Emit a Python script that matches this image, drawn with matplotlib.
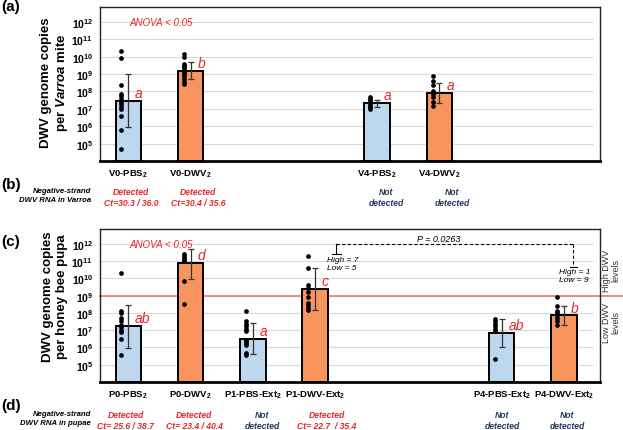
import numpy as np
import matplotlib
matplotlib.use('Agg')
import matplotlib.pyplot as plt
import matplotlib.transforms as mtrans

plt.rcParams['font.family'] = ['Liberation Sans', 'DejaVu Sans']
plt.rcParams['mathtext.fontset'] = 'custom'
plt.rcParams['mathtext.rm'] = 'Liberation Sans:bold'
plt.rcParams['mathtext.it'] = 'Liberation Sans:italic:bold'
plt.rcParams['mathtext.bf'] = 'Liberation Sans:bold'
plt.rcParams['mathtext.default'] = 'rm'

#%% Data ----------------------------------------------------------------------

# (a) DWV copies per Varroa mite
labels_a = ['V0-PBS$_2$', 'V0-DWV$_2$', 'V4-PBS$_2$', 'V4-DWV$_2$']
mean_a = [3.0e7, 1.45e9, 2.1e7, 8.0e7]
hi_a = [1.0e9, 4.8e9, 3.3e7, 3.1e8]
lo_a = [8.9e5, 4.9e8, 1.35e7, 2.2e7]
# individual samples, log10 copies
pts_a = [[10.35, 9.93, 8.38, 7.86, 7.73, 7.57, 7.42, 7.29, 7.13, 7.0, 6.58, 5.79, 4.70],
         [10.16, 10.01, 9.59, 9.49, 9.40, 9.30, 9.20, 9.11, 9.01, 8.88, 8.72, 8.57, 8.44],
         [7.67, 7.57, 7.48, 7.38, 7.29, 7.19, 7.10, 7.0],
         [8.91, 8.63, 8.38, 8.05, 7.86, 7.67, 7.38, 7.15]]
letters_a = ['a', 'b', 'a', 'a']
neg_a = ['Detected\nCt=30.3 / 36.0', 'Detected\nCt=30.4 / 35.6',
         'Not\ndetected', 'Not\ndetected']

# (c) DWV copies per honey bee pupa
labels_c = ['P0-PBS$_2$', 'P0-DWV$_2$', 'P1-PBS-Ext$_2$', 'P1-DWV-Ext$_2$',
            'P4-PBS-Ext$_2$', 'P4-DWV-Ext$_2$']
mean_c = [1.7e7, 7.6e10, 3.2e6, 2.4e9, 6.9e6, 7.2e7]
hi_c = [2.7e8, 5.1e11, 2.6e7, 4.0e10, 4.4e7, 2.4e8]
lo_c = [9.3e5, 9.5e9, 4.2e5, 1.5e8, 1.0e6, 1.9e7]
pts_c = [[10.31, 8.13, 7.99, 7.71, 7.51, 7.32, 7.16, 7.03, 6.90, 6.51, 5.58],
         [11.40, 11.27, 11.17, 11.08, 10.98, 9.82, 8.51],
         [8.09, 7.51, 7.36, 7.22, 7.09, 6.93, 6.45, 6.35, 6.26, 6.16, 5.68, 5.58],
         [11.31, 10.60, 9.63, 9.44, 9.24, 8.95, 8.57, 8.47, 8.28, 8.18],
         [7.66, 7.51, 7.36, 7.22, 7.09, 6.93, 5.35],
         [8.90, 8.38, 8.13, 7.99, 7.86, 7.71, 7.51, 7.32]]
letters_c = ['ab', 'd', 'a', 'c', 'ab', 'b']
neg_c = ['Detected\nCt= 25.6 / 38.7', 'Detected\nCt= 23.4 / 40.4', 'Not\ndetected',
         'Detected\nCt= 22.7  / 35.4', 'Not\ndetected', 'Not\ndetected']

threshold = 1e9
p_value = 'P = 0.0263'
counts_p1 = 'High = 7\nLow = 5'
counts_p4 = 'High = 1\nLow = 9'

#%% Styles --------------------------------------------------------------------
blue = '#BDD7EE'
orange = '#F8955F'
red = '#E8262B'
navy = '#22385E'
xlim = (-0.455, 7.58)
ylim = (1e4, 10**12.86)


def draw_panel(ax, xs, labels, mean, hi, lo, pts, letters):
    mean = np.array(mean)
    yerr = [mean - np.array(lo), np.array(hi) - mean]
    cols = [blue if 'PBS' in l else orange for l in labels]
    ax.set_yscale('log')
    ax.set_xlim(*xlim)
    ax.set_ylim(*ylim)
    for k in range(5, 13):
        ax.hlines(10.0**k, xlim[0], 7.47, color='#D9D9D9', lw=0.8, zorder=0)
    ax.bar(xs, mean - ylim[0], bottom=ylim[0], width=0.41, color=cols,
           edgecolor='k', linewidth=1.4, zorder=2)
    ax.errorbar(xs, mean, yerr=yerr, fmt='none', ecolor='#333333',
                elinewidth=0.9, capsize=2.2, capthick=0.9, zorder=4)
    for x, p in zip(xs, pts):
        ax.plot(np.full(len(p), x - 0.11), 10**np.array(p), 'o', color='k',
                ms=3.4, mew=0, zorder=3)
    for x, m, t in zip(xs, mean, letters):
        ax.text(x + 0.11, m * 10**0.45, t, color=red, style='italic',
                fontsize=10, ha='left', va='center', zorder=5)
    ax.set_xticks(xs)
    ax.set_xticklabels(labels, fontsize=6.8, fontweight='bold')
    ax.set_yticks([10.0**k for k in range(5, 13)])
    ax.set_yticklabels([r'$10^{%d}$' % k for k in range(5, 13)], fontsize=7.5)
    ax.minorticks_off()
    ax.tick_params(length=0, pad=5)
    for s in ['top', 'right', 'left']:
        ax.spines[s].set_linewidth(1.0)
        ax.spines[s].set_color('#222222')
    ax.spines['bottom'].set_linewidth(2.0)
    ax.text(0.02, 10**12, 'ANOVA < 0.05', color=red, style='italic',
            fontsize=7, va='center')


W, H = 623, 431
fig = plt.figure(figsize=(W / 100, H / 100), dpi=100)
ax_a = fig.add_axes([100 / W, 1 - 162 / H, 500 / W, 154 / H])
ax_c = fig.add_axes([100 / W, 1 - 383 / H, 500 / W, 153 / H])

xs_a = [0, 1, 4, 5]
xs_c = [0, 1, 2, 3, 6, 7]
draw_panel(ax_a, xs_a, labels_a, mean_a, hi_a, lo_a, pts_a, letters_a)
draw_panel(ax_c, xs_c, labels_c, mean_c, hi_c, lo_c, pts_c, letters_c)

# y labels
fig.text(55 / W, 1 - 83 / H, 'DWV genome copies\nper $\\mathit{Varroa}$ mite',
         rotation=90, ha='center', va='center', fontsize=9.5,
         fontweight='bold', multialignment='center', linespacing=1.15)
fig.text(55 / W, 1 - 297 / H, 'DWV genome copies\nper honey bee pupa',
         rotation=90, ha='center', va='center', fontsize=9.5,
         fontweight='bold', multialignment='center', linespacing=1.15)

# panel letters
for lab, y in zip(['(a)', '(b)', '(c)', '(d)'], [7, 185, 242, 406]):
    fig.text(0.002, 1 - y / H, lab, fontsize=11, fontweight='bold',
             ha='left', va='center')

# threshold line (runs past the right spine)
ax_c.plot([0, 1.05], [threshold, threshold], transform=ax_c.get_yaxis_transform(),
          color='#F08080', lw=1.3, clip_on=False, zorder=1)
fig.text(611 / W, 1 - 271 / H, 'High DWV\nlevels', rotation=90, ha='center',
         va='center', fontsize=6.5, color='#333333', linespacing=1.1)
fig.text(611 / W, 1 - 323 / H, 'Low DWV\nlevels', rotation=90, ha='center',
         va='center', fontsize=6.5, color='#333333', linespacing=1.1)

# comparison bracket P1 vs P4
ax_c.plot([3.34, 7.15], [10**12, 10**12], 'k--', lw=0.8, dashes=(3, 2))
ax_c.plot([3.34, 3.34], [10**12, 10**11.42], 'k-', lw=0.8)
ax_c.plot([3.27, 3.41], [10**11.42, 10**11.42], 'k-', lw=0.8)
ax_c.plot([7.15, 7.15], [10**12, 10**10.67], 'k--', lw=0.8, dashes=(3, 2))
ax_c.plot([7.09, 7.21], [10**10.67, 10**10.67], 'k-', lw=0.8)
ax_c.text(4.98, 10**12.05, p_value, style='italic', fontsize=6.5,
          ha='center', va='bottom')
ax_c.text(3.19, 10**11.32, counts_p1, style='italic', fontsize=6,
          ha='left', va='top', linespacing=1.3)
ax_c.text(6.92, 10**10.62, counts_p4, style='italic', fontsize=6,
          ha='left', va='top', linespacing=1.3)

# negative-strand rows (b) and (d)
def neg_row(ax, xs, texts, y1, what):
    tr = mtrans.blended_transform_factory(ax.transData, fig.transFigure)
    fig.text(91 / W, 1 - y1 / H, 'Negative-strand\nDWV RNA in ' + what,
             ha='right', va='top', fontsize=5.6, fontweight='bold',
             style='italic', linespacing=1.35)
    for x, t in zip(xs, texts):
        c = red if t.startswith('Detected') else navy
        ax.text(x, 1 - y1 / H, t, transform=tr, ha='center', va='top',
                fontsize=6.2, fontweight='bold', style='italic', color=c,
                linespacing=1.25)

neg_row(ax_a, [0.04, 1.12, 4.14, 5.20], neg_a, 188.5, 'Varroa')
neg_row(ax_c, [-0.04, 1.06, 2.15, 3.19, 6.01, 7.05], neg_c, 411, 'pupae')

fig.savefig('out.png', dpi=100, facecolor='w')
